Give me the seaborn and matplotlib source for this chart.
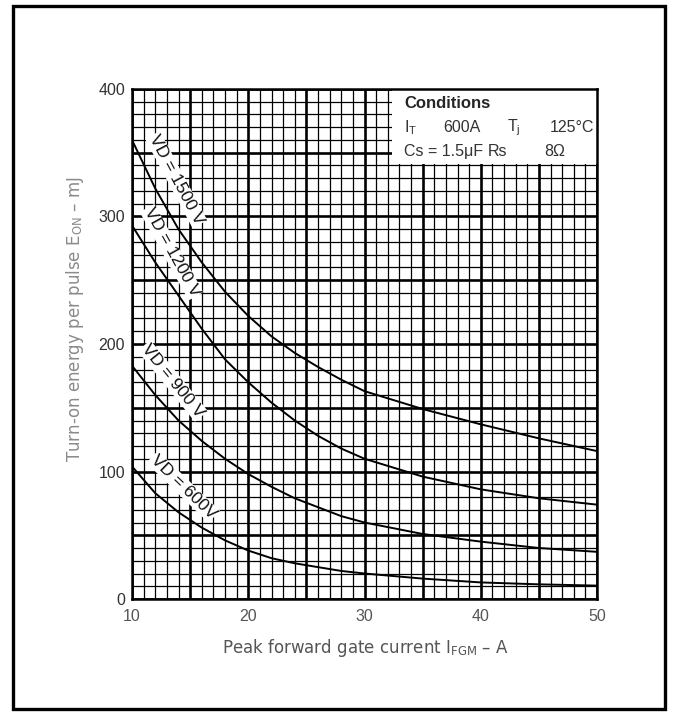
import numpy as np
import pandas as pd
import matplotlib
matplotlib.use("Agg")
import matplotlib.pyplot as plt
import seaborn as sns
from matplotlib.patches import Rectangle

# Turn-on energy per pulse vs. peak forward gate current, for four blocking voltages
gate_current = [10, 12, 14, 16, 18, 20, 22, 24, 26, 28, 30, 35, 40, 45, 50]
e_on_1500 = [360, 322, 290, 264, 241, 222, 206, 193, 182, 172, 163, 149, 137, 126, 116]
e_on_1200 = [293, 264, 238, 212, 188, 170, 154, 140, 128, 118, 110, 96, 86, 79, 74]
e_on_900 = [183, 160, 140, 124, 110, 98, 88, 79, 72, 65, 60, 51, 45, 40, 37]
e_on_600 = [104, 83, 68, 56, 46, 38, 32, 28, 25, 22, 20, 16, 13, 11.5, 10.5]

voltages = ["1500 V", "1200 V", "900 V", "600V"]
series = [e_on_1500, e_on_1200, e_on_900, e_on_600]

x_ticks = [10, 20, 30, 40, 50]
y_ticks = [0, 100, 200, 300, 400]

df = pd.concat(
    [pd.DataFrame({"IFGM": gate_current, "EON": s, "VD": v}) for v, s in zip(voltages, series)],
    ignore_index=True,
)

sns.set_style("white")
plt.rcParams["font.family"] = ["Liberation Sans", "DejaVu Sans"]
plt.rcParams["mathtext.fontset"] = "custom"
plt.rcParams["mathtext.rm"] = "Liberation Sans"
plt.rcParams["mathtext.it"] = "Liberation Sans:italic"
plt.rcParams["mathtext.bf"] = "Liberation Sans:bold"

fig = plt.figure(figsize=(6.77, 7.24), dpi=100)
ax = fig.add_axes([132 / 677, 1 - 599 / 724, (597 - 132) / 677, (599 - 89) / 724])

sns.lineplot(data=df, x="IFGM", y="EON", hue="VD", palette=["black"] * 4,
             legend=False, linewidth=1.4, ax=ax, zorder=2)

ax.set_xlim(10, 50)
ax.set_ylim(0, 400)

# dense chart-paper grid: fine lines every 1 A / 10 mJ, heavy every 5 A / 50 mJ
ax.set_xticks(np.arange(10, 51, 5))
ax.set_xticks(np.arange(10, 51, 1), minor=True)
ax.set_yticks(np.arange(0, 401, 50))
ax.set_yticks(np.arange(0, 401, 10), minor=True)
ax.set_xticklabels([str(v) if v in x_ticks else "" for v in range(10, 51, 5)])
ax.set_yticklabels([str(v) if v in y_ticks else "" for v in range(0, 401, 50)])
ax.set_axisbelow(True)
ax.grid(which="major", color="black", linewidth=1.9)
ax.grid(which="minor", color="black", linewidth=0.9)
ax.tick_params(which="both", length=0)
ax.tick_params(axis="x", pad=7, labelsize=11.5, labelcolor="#555555")
ax.tick_params(axis="y", pad=5, labelsize=11.5, labelcolor="#333333")
for sp in ax.spines.values():
    sp.set_color("black")
    sp.set_linewidth(1.8)

label_font = ["DejaVu Sans"]
ax.set_xlabel("Peak forward gate current I$_\\mathregular{FGM}$ – A", fontsize=12,
              color="#555555", family=label_font)
ax.set_ylabel("Turn-on energy per pulse E$_\\mathregular{ON}$ – mJ", fontsize=12,
              color="#8a8a8a", family=label_font)
ax.xaxis.set_label_coords(0.501, -0.074)
ax.yaxis.set_label_coords(-0.100, 0.549)

# voltage labels set along each curve
curve_labels = [
    ("VD = 1500 V", 13.8, 329, -62),
    ("VD = 1200 V", 13.4, 272, -61),
    ("VD = 900 V", 13.5, 171, -51),
    ("VD = 600V", 14.4, 88, -44),
]
for txt, lx, ly, rot in curve_labels:
    ax.text(lx, ly, txt, rotation=rot, rotation_mode="anchor", ha="center", va="center",
            fontsize=12.5, color="#111111", zorder=3,
            bbox=dict(facecolor="white", edgecolor="none", pad=0.6))

# test conditions panel
ax.add_patch(Rectangle((32.4, 341), 50 - 32.4, 59, facecolor="white", edgecolor="none", zorder=1.5))
ax.text(33.4, 389, "Conditions", fontsize=12, fontweight="bold", va="center", ha="left", zorder=3)
cond_kw = dict(fontsize=11.5, color="#333333", va="center", zorder=3)
ax.text(33.4, 370, "I$_\\mathregular{T}$", ha="left", **cond_kw)
ax.text(36.8, 370, "600A", ha="left", **cond_kw)
ax.text(42.3, 370, "T$_\\mathregular{j}$", ha="left", **cond_kw)
ax.text(49.8, 370, "125°C", ha="right", **cond_kw)
ax.text(33.4, 351, "Cs = 1.5μF", ha="left", **cond_kw)
ax.text(40.6, 351, "Rs", ha="left", **cond_kw)
ax.text(45.5, 351, "8Ω", ha="left", **cond_kw)

# page frame
fig.add_artist(Rectangle((13 / 677, 1 - 709 / 724), (665 - 13) / 677, (709 - 6) / 724,
                         transform=fig.transFigure, fill=False, linewidth=2.4, edgecolor="black"))

fig.savefig("out.png", dpi=100, facecolor="white")
